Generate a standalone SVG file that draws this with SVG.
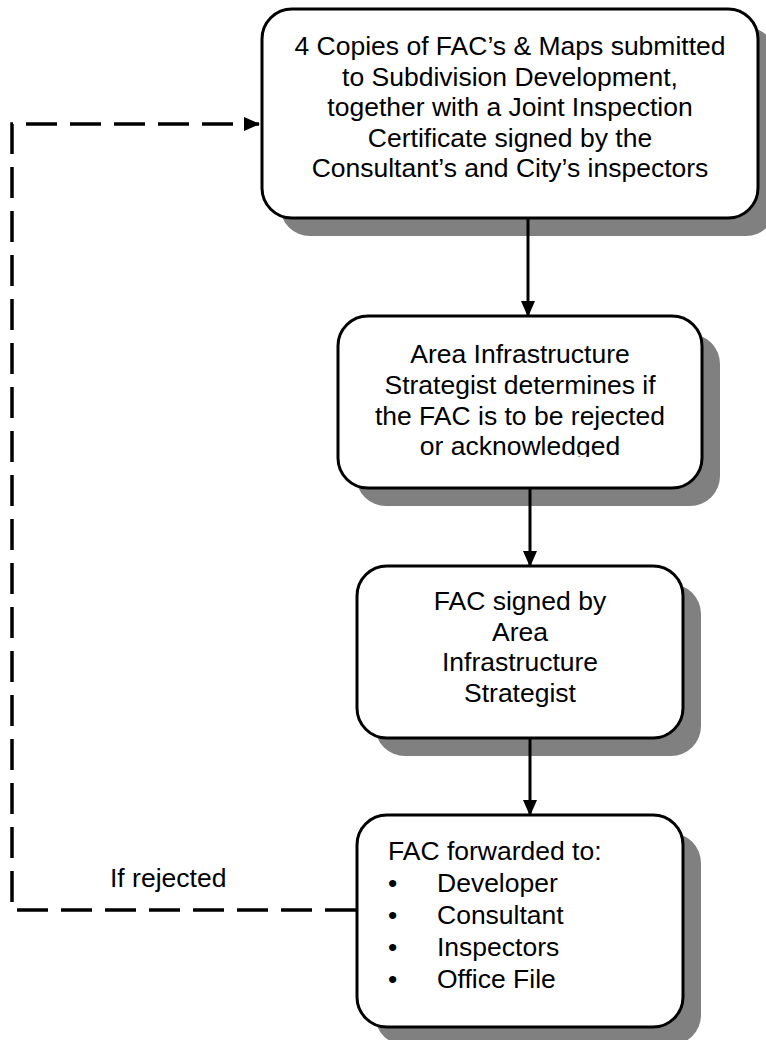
<svg xmlns="http://www.w3.org/2000/svg" width="766" height="1040" viewBox="0 0 766 1040">
<style>
.shadow{fill:#808080;stroke:none}
.box{fill:#ffffff;stroke:#000000;stroke-width:3}
.t{font-family:"Liberation Sans",Arial,sans-serif;font-size:26.5px;fill:#000000}
.c{text-anchor:middle}
.conn{fill:none;stroke:#000000;stroke-width:3}
.dash{fill:none;stroke:#000000;stroke-width:3.5;stroke-dasharray:31 13}
</style>
<defs>
<marker id="ah" markerUnits="userSpaceOnUse" markerWidth="16" markerHeight="16" viewBox="0 0 16 16" refX="15" refY="8" orient="auto">
<path d="M0,1 L16,8 L0,15 Z" fill="#000000"/>
</marker>
<clipPath id="clip2"><rect x="338" y="316" width="364" height="141"/></clipPath>
</defs>
<rect x="0" y="0" width="766" height="1040" fill="#ffffff"/>
<g id="node1">
<rect class="shadow" x="280" y="27" width="496" height="209" rx="30"/>
<rect class="box" x="262" y="9" width="496" height="209" rx="30"/>
<text class="t c" x="510" y="55">4 Copies of FAC’s &amp; Maps submitted</text>
<text class="t c" x="510" y="85.5">to Subdivision Development,</text>
<text class="t c" x="510" y="116">together with a Joint Inspection</text>
<text class="t c" x="510" y="146.5">Certificate signed by the</text>
<text class="t c" x="510" y="177">Consultant’s and City’s inspectors</text>
</g>
<g id="node2">
<rect class="shadow" x="356" y="334" width="364" height="172" rx="30"/>
<rect class="box" x="338" y="316" width="364" height="172" rx="30"/>
<g clip-path="url(#clip2)">
<text class="t c" x="520" y="363">Area Infrastructure</text>
<text class="t c" x="520" y="394">Strategist determines if</text>
<text class="t c" x="520" y="425">the FAC is to be rejected</text>
<text class="t c" x="520" y="455">or acknowledged</text>
</g>
</g>
<g id="node3">
<rect class="shadow" x="375" y="584" width="326" height="172" rx="30"/>
<rect class="box" x="357" y="566" width="326" height="172" rx="30"/>
<text class="t c" x="520" y="610">FAC signed by</text>
<text class="t c" x="520" y="641">Area</text>
<text class="t c" x="520" y="671">Infrastructure</text>
<text class="t c" x="520" y="702">Strategist</text>
</g>
<g id="node4">
<rect class="shadow" x="375" y="833" width="326" height="212" rx="30"/>
<rect class="box" x="357" y="815" width="326" height="212" rx="30"/>
<text class="t" x="388" y="860">FAC forwarded to:</text>
<text class="t" x="388" y="892">•<tspan x="437">Developer</tspan></text>
<text class="t" x="388" y="924">•<tspan x="437">Consultant</tspan></text>
<text class="t" x="388" y="956">•<tspan x="437">Inspectors</tspan></text>
<text class="t" x="388" y="988">•<tspan x="437">Office File</tspan></text>
</g>
<g id="connectors">
<line class="conn" x1="528" y1="219" x2="528" y2="316" marker-end="url(#ah)"/>
<line class="conn" x1="530" y1="489" x2="530" y2="566" marker-end="url(#ah)"/>
<line class="conn" x1="530" y1="739" x2="530" y2="815" marker-end="url(#ah)"/>
<path class="dash" d="M356,910 H12 V124 H259" marker-end="url(#ah)"/>
<text class="t" x="110" y="887">If rejected</text>
</g>
</svg>
